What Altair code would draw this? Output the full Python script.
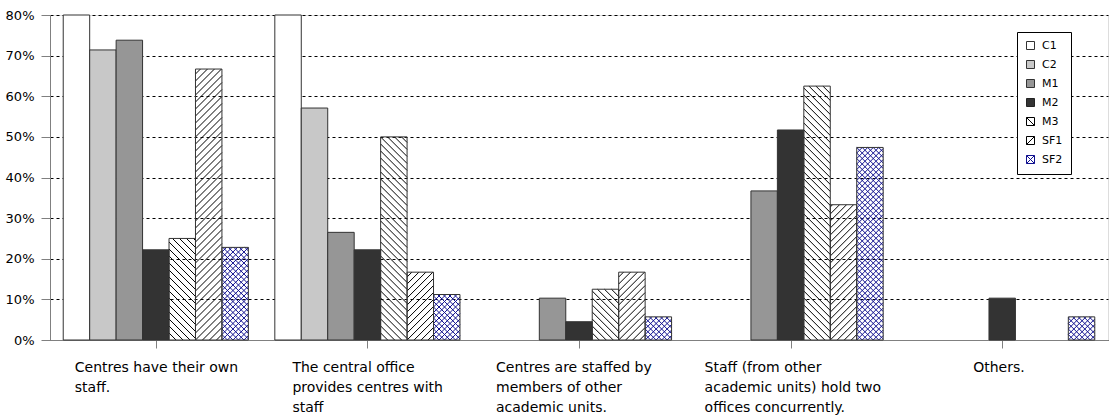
import math

import altair as alt
import pandas as pd

# Category labels, already wrapped into lines
CATEGORY_LINES = [
    "Centres have their own\nstaff.",
    "The central office\nprovides centres with\nstaff",
    "Centres are staffed by\nmembers of other\nacademic units.",
    "Staff (from other\nacademic units) hold two\noffices concurrently.",
    "Others.",
]

SERIES = ["C1", "C2", "M1", "M2", "M3", "SF1", "SF2"]

# Share of each group (percent) per category
C1 = [80.0, 80.0, 0.0, 0.0, 0.0]
C2 = [71.4, 57.1, 0.0, 0.0, 0.0]
M1 = [73.8, 26.5, 10.3, 36.7, 0.0]
M2 = [22.2, 22.2, 4.5, 51.7, 10.3]
M3 = [25.0, 50.0, 12.5, 62.5, 0.0]
SF1 = [66.7, 16.7, 16.7, 33.3, 0.0]
SF2 = [22.8, 11.2, 5.7, 47.4, 5.7]

Y_TICKS = [0, 0.1, 0.2, 0.3, 0.4, 0.5, 0.6, 0.7, 0.8]

VALUES = dict(zip(SERIES, [C1, C2, M1, M2, M3, SF1, SF2]))

# ---- styling / layout -------------------------------------------------------
FONT = "DejaVu Sans"
FILLS = ["#ffffff", "#c8c8c8", "#969696", "#333333", "transparent", "transparent", "transparent"]
LEGEND_FILLS = ["#ffffff", "#c8c8c8", "#969696", "#333333", "#ffffff", "#ffffff", "#ffffff"]
LEGEND_STROKES = ["#333333", "#333333", "#333333", "#222222", "#000000", "#000000", "#10108f"]
SQUARE = "M-1,-1H1V1H-1Z"
LEGEND_SHAPES = [SQUARE, SQUARE, SQUARE, SQUARE,
                 SQUARE + "M-1,-1L1,1",
                 SQUARE + "M-1,1L1,-1",
                 SQUARE + "M-1,-1L1,1M-1,1L1,-1"]
# hatch style per patterned series: (direction, colour, pitch in px)
HATCH = {"M3": ("back", "#000000", 7.0),
         "SF1": ("fwd", "#000000", 7.0),
         "SF2": ("cross", "#10108f", 5.5)}
LABEL_SHIFT = [-81, -75, -83, -86, -29]

W, H = 1058, 325
X_MAX, Y_MAX = 5.0, 0.8
PX, PY = W / X_MAX, H / Y_MAX
BAR_W = 0.125

# ---- bar table ---------------------------------------------------------------
fill_of = dict(zip(SERIES, FILLS))
rows = []
for gi in range(len(CATEGORY_LINES)):
    for si, s in enumerate(SERIES):
        v = VALUES[s][gi] / 100.0
        if v <= 0:
            continue
        x0 = gi + 0.5 + (si - 3.5) * BAR_W
        rows.append({"series": s, "x0": x0, "x1": x0 + BAR_W, "value": v,
                     "fill": fill_of[s]})
bars = pd.DataFrame(rows)


def diag_segments(x0, x1, top, direction, pitch):
    """45-degree hatch segments clipped to the bar rectangle, in data units."""
    w = (x1 - x0) * PX
    h = top * PY
    out = []
    n_max = int(math.ceil((w + h) / pitch)) + 1
    for n in range(-n_max, n_max + 1):
        k = n * pitch
        if direction == "fwd":  # v = u + k
            ua, ub = max(0.0, -k), min(w, h - k)
            if ub - ua < 0.4:
                continue
            va, vb = ua + k, ub + k
        else:  # v = k - u
            ua, ub = max(0.0, k - h), min(w, k)
            if ub - ua < 0.4:
                continue
            va, vb = k - ua, k - ub
        out.append((x0 + ua / PX, va / PY, x0 + ub / PX, vb / PY))
    return out


hatch_rows = []
for r in rows:
    if r["series"] not in HATCH:
        continue
    direction, colour, pitch = HATCH[r["series"]]
    dirs = ["fwd", "back"] if direction == "cross" else [direction]
    for d in dirs:
        for xa, ya, xb, yb in diag_segments(r["x0"], r["x1"], r["value"], d, pitch):
            hatch_rows.append({"xa": xa, "ya": ya, "xb": xb, "yb": yb, "colour": colour})
hatch = pd.DataFrame(hatch_rows)

x_scale = alt.Scale(domain=[0, X_MAX], nice=False, zero=False)
y_scale = alt.Scale(domain=[0, Y_MAX], nice=False)

x_axis = alt.Axis(values=[0.5, 1.5, 2.5, 3.5, 4.5], labels=False, title=None, grid=False,
                  tickSize=8, tickColor="#808080", domainColor="#808080")
y_axis = alt.Axis(values=Y_TICKS, format=".0%", title=None, grid=True, gridColor="#000000",
                  gridDash=[3, 3], gridWidth=1, tickSize=9, labelPadding=7,
                  tickColor="#808080", domainColor="#808080", labelFont=FONT,
                  labelFontSize=13, labelColor="#000000")

hatch_layer = alt.Chart(hatch).mark_rule(strokeWidth=1).encode(
    x=alt.X("xa:Q", scale=x_scale, axis=x_axis),
    x2="xb:Q",
    y=alt.Y("ya:Q", scale=y_scale, axis=y_axis),
    y2="yb:Q",
    stroke=alt.Stroke("colour:N", scale=None),
)

bar_layer = alt.Chart(bars).mark_rect(stroke="#333333", strokeWidth=1).encode(
    x=alt.X("x0:Q", scale=x_scale, axis=x_axis),
    x2="x1:Q",
    y=alt.Y("value:Q", scale=y_scale, axis=y_axis),
    y2=alt.datum(0),
    fill=alt.Fill("fill:N", scale=None),
)

# fill, stroke and shape share one field, so they combine into a single legend
legend_kw = dict(
    title=None, orient="none", legendX=967, legendY=17, padding=8,
    strokeColor="#000000", fillColor="#ffffff", labelFont=FONT, labelFontSize=11,
    labelColor="#000000", symbolSize=64, symbolStrokeWidth=1, rowPadding=6, labelOffset=6,
    symbolFillColor="#ffffff", symbolStrokeColor="#000000",
)
legend_src = pd.DataFrame({"series": SERIES})
legend_layer = alt.Chart(legend_src).mark_point(filled=True, opacity=0).encode(
    x=alt.value(0),
    y=alt.value(0),
    fill=alt.Fill("series:N", scale=alt.Scale(domain=SERIES, range=LEGEND_FILLS),
                  legend=alt.Legend(**legend_kw)),
    stroke=alt.Stroke("series:N", scale=alt.Scale(domain=SERIES, range=LEGEND_STROKES),
                      legend=alt.Legend(**legend_kw)),
    shape=alt.Shape("series:N", scale=alt.Scale(domain=SERIES, range=LEGEND_SHAPES),
                    legend=alt.Legend(**legend_kw)),
)

label_src = pd.DataFrame({"center": [i + 0.5 for i in range(len(CATEGORY_LINES))],
                          "label": CATEGORY_LINES})
label_layers = []
for i, shift in enumerate(LABEL_SHIFT):
    label_layers.append(
        alt.Chart(label_src)
        .transform_filter(alt.datum.center == i + 0.5)
        .mark_text(align="left", baseline="alphabetic", lineBreak="\n", lineHeight=20,
                   dx=shift, font=FONT, fontSize=14, color="#000000")
        .encode(x=alt.X("center:Q", scale=x_scale, axis=x_axis), y=alt.value(H + 32),
                text="label:N")
    )

chart = (
    alt.layer(hatch_layer, bar_layer, legend_layer, *label_layers)
    .properties(width=W, height=H, autosize="none",
                padding={"left": 50, "top": 15, "right": 1, "bottom": 77})
    .configure_view(stroke=None)
    .configure(background="#ffffff")
)

chart.save("out.html", embed_options={"renderer": "svg", "actions": False})
